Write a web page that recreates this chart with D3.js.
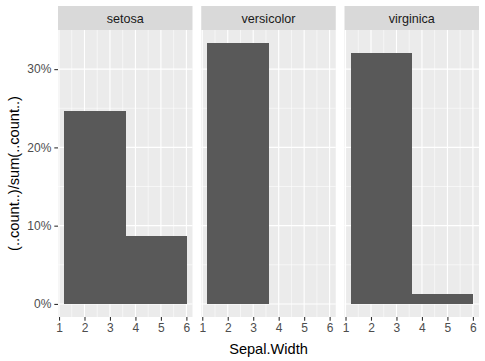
<html>
  <head>
    <meta charset="utf-8" />
    <script src="https://cdnjs.cloudflare.com/ajax/libs/d3/7.6.1/d3.min.js"></script>
    <style>
      body { margin: 0; background: #fff; }
      svg { font-family: "Liberation Sans", Arial, sans-serif; }
    </style>
  </head>
  <body>
    <svg width="485" height="361"></svg>
  </body>

  <script>
    // facets, histogram bins (start, width) and share of all rows per bin
    const species = ["setosa", "versicolor", "virginica"];
    const binStarts = [1.2, 3.6];
    const binWidth = 2.4;
    const shares = {
      setosa: [0.247, 0.087],
      versicolor: [0.333, 0],
      virginica: [0.32, 0.013],
    };
    const xTicks = [1, 2, 3, 4, 5, 6];
    const yTicks = [0, 0.1, 0.2, 0.3];

    const svg = d3.select("svg");
    const pLeft = 58, pRight = 479, gap = 8.75;
    const pTop = 30, pBottom = 317, stripH = 24;
    const pw = (pRight - pLeft - 2 * gap) / species.length;

    const y = d3.scaleLinear().domain([-0.0167, 0.35]).range([pBottom, pTop]);

    species.forEach((sp, i) => {
      const x0 = pLeft + i * (pw + gap);
      const x = d3.scaleLinear().domain([0.96, 6.24]).range([x0, x0 + pw]);
      const g = svg.append("g");

      // strip
      g.append("rect")
        .attr("x", x0).attr("y", pTop - stripH)
        .attr("width", pw).attr("height", stripH)
        .attr("fill", "#D9D9D9");
      g.append("text")
        .attr("x", x0 + pw / 2).attr("y", pTop - 7.5)
        .attr("text-anchor", "middle")
        .attr("font-size", "12.6px")
        .attr("fill", "#1A1A1A")
        .text(sp);

      // panel
      g.append("rect")
        .attr("x", x0).attr("y", pTop)
        .attr("width", pw).attr("height", pBottom - pTop)
        .attr("fill", "#EBEBEB");

      const minorX = d3.range(0.5, 6.5, 1).filter((v) => x(v) > x0 && x(v) < x0 + pw);
      const minorY = [0.05, 0.15, 0.25];
      g.selectAll(".mx").data(minorX).enter().append("line")
        .attr("x1", (d) => x(d)).attr("x2", (d) => x(d))
        .attr("y1", pTop).attr("y2", pBottom)
        .attr("stroke", "#fff").attr("stroke-width", 0.55);
      g.selectAll(".my").data(minorY).enter().append("line")
        .attr("x1", x0).attr("x2", x0 + pw)
        .attr("y1", (d) => y(d)).attr("y2", (d) => y(d))
        .attr("stroke", "#fff").attr("stroke-width", 0.55);
      g.selectAll(".gx").data(xTicks).enter().append("line")
        .attr("x1", (d) => x(d)).attr("x2", (d) => x(d))
        .attr("y1", pTop).attr("y2", pBottom)
        .attr("stroke", "#fff").attr("stroke-width", 1.1);
      g.selectAll(".gy").data(yTicks).enter().append("line")
        .attr("x1", x0).attr("x2", x0 + pw)
        .attr("y1", (d) => y(d)).attr("y2", (d) => y(d))
        .attr("stroke", "#fff").attr("stroke-width", 1.1);

      // bars
      const bins = shares[sp].map((v, j) => ({ v, s: binStarts[j] })).filter((d) => d.v > 0);
      g.selectAll(".bar").data(bins).enter().append("rect")
        .attr("x", (d) => x(d.s))
        .attr("width", (d) => x(d.s + binWidth) - x(d.s) + 0.5)
        .attr("y", (d) => y(d.v))
        .attr("height", (d) => y(0) - y(d.v))
        .attr("shape-rendering", "crispEdges")
        .attr("fill", "#595959");

      // x axis
      const ax = g.append("g").attr("transform", `translate(0,${pBottom})`)
        .call(d3.axisBottom(x).tickValues(xTicks).tickFormat(d3.format("d")).tickSize(3.7).tickPadding(3));
      ax.select(".domain").remove();
      ax.selectAll("line").attr("stroke", "#333").attr("stroke-width", 1.1);
      ax.selectAll("text").attr("fill", "#4D4D4D").attr("font-size", "12px")
        .attr("font-family", "Liberation Sans, Arial, sans-serif");
    });

    // y axis
    const ay = svg.append("g").attr("transform", `translate(${pLeft},0)`)
      .call(d3.axisLeft(y).tickValues(yTicks).tickFormat(d3.format(".0%")).tickSize(3.7).tickPadding(3));
    ay.select(".domain").remove();
    ay.selectAll("line").attr("stroke", "#333").attr("stroke-width", 1.1);
    ay.selectAll("text").attr("fill", "#4D4D4D").attr("font-size", "12px")
      .attr("font-family", "Liberation Sans, Arial, sans-serif");

    // titles
    svg.append("text")
      .attr("x", (pLeft + pRight) / 2).attr("y", 354)
      .attr("text-anchor", "middle").attr("font-size", "14.6px").attr("fill", "#000")
      .text("Sepal.Width");
    svg.append("text")
      .attr("transform", `translate(19,${(pTop + pBottom) / 2}) rotate(-90)`)
      .attr("text-anchor", "middle").attr("font-size", "14.6px").attr("fill", "#000")
      .text("(..count..)/sum(..count..)");
  </script>
</html>
